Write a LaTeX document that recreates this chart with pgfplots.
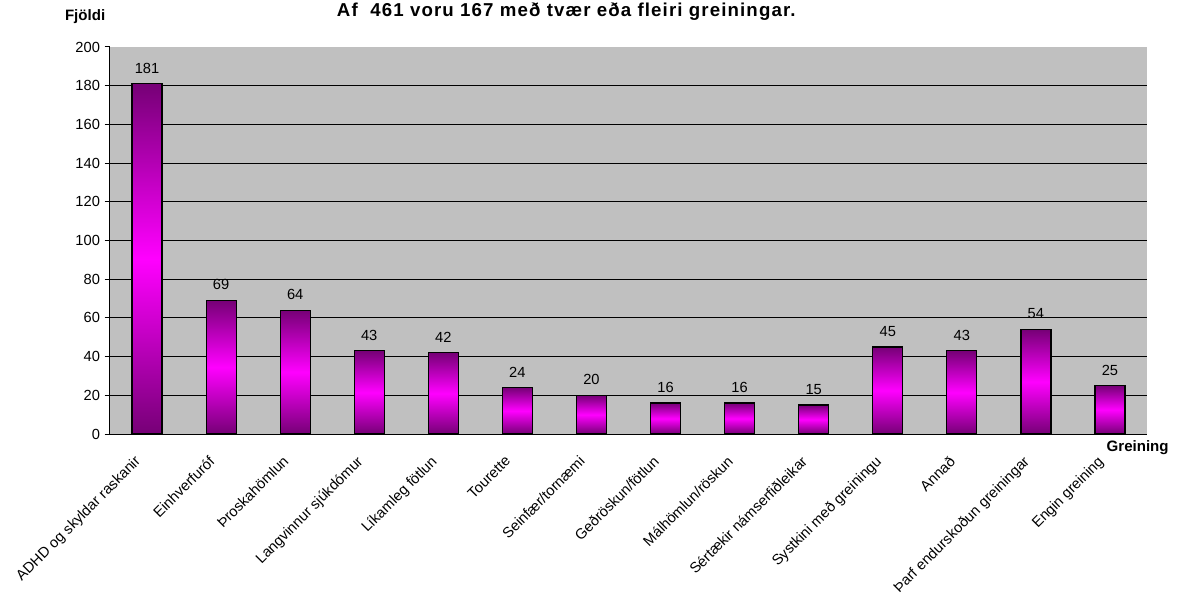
\documentclass[border=0pt]{standalone}
\usepackage{pgfplots}
\usepackage{pgfplotstable}
\pgfplotsset{compat=1.18}
\usepackage{fontspec}
\setmainfont{Liberation Sans}
\newfontfamily\titlefont[LetterSpace=6]{Liberation Sans}
\definecolor{plotbg}{RGB}{192,192,192}
\definecolor{darkpurple}{RGB}{118,0,118}
\definecolor{brightmag}{RGB}{255,0,255}
\pgfplotstableread{
x y
0 181
1 69
2 64
3 43
4 42
5 24
6 20
7 16
8 16
9 15
10 45
11 43
12 54
13 25
}\datatable
\begin{document}
\begin{tikzpicture}
\path[use as bounding box] (-82.5pt,-121.5pt) rectangle (801pt,325.5pt);
\begin{axis}[
  scale only axis,
  width=777.75pt, height=290.25pt,
  xmin=-0.5, xmax=13.5,
  ymin=0, ymax=200,
  axis x line*=bottom, axis y line*=left,
  axis line style={black, line width=0.75pt},
  axis background/.style={fill=plotbg},
  ytick={0,20,...,200},
  y tick label style={font=\fontsize{11}{13}\selectfont},
  /pgf/number format/assume math mode=true,
  ytick style={black, line width=0.75pt},
  tick align=outside,
  major tick length=4pt,
  xtick={0,...,13},
  xticklabels={ADHD og skyldar raskanir, Einhverfuróf, Þroskahömlun, Langvinnur sjúkdómur, Líkamleg fötlun, Tourette, Seinfær/tornæmi, Geðröskun/fötlun, Málhömlun/röskun, Sértækir námserfiðleikar, Systkini með greiningu, Annað, Þarf endurskoðun greiningar, Engin greining},
  x tick label style={font=\fontsize{11}{13}\selectfont, xshift=-10pt, yshift=-10pt, rotate=45, anchor=north east, inner sep=1pt},
  x tick style={draw=none},
  extra x ticks={-0.5,0.5,...,13.5},
  extra x tick labels={},
  extra x tick style={tick style={draw=black, line width=0.75pt}},
  extra y ticks={20,40,...,180},
  extra y tick labels={},
  extra y tick style={grid=major, major tick length=0pt},
  grid style={black, line width=0.75pt},
  clip=false,
]
\pgfplotsinvokeforeach{0,...,13}{
\addplot[ybar, bar width=22.5pt, bar shift=0pt, draw=black, line width=0.9pt,
  top color=darkpurple, bottom color=darkpurple, middle color=brightmag,
  restrict x to domain=#1:#1,
  nodes near coords,
  every node near coord/.style={font=\fontsize{11}{13}\selectfont, text=black, anchor=south, yshift=4pt}]
table[x=x, y=y] {\datatable};
}
\node[font=\titlefont\fontsize{14}{16}\selectfont\bfseries] at (axis description cs:0.44,1.092) {Af\ \ 461 voru 167 með tvær eða fleiri greiningar.};
\node[font=\fontsize{11.3}{13}\selectfont\bfseries] at (axis description cs:-0.024,1.0775) {Fjöldi};
\node[font=\fontsize{11.3}{13}\selectfont\bfseries] at (axis description cs:0.991,-0.034) {Greining};
\end{axis}
\end{tikzpicture}
\end{document}
